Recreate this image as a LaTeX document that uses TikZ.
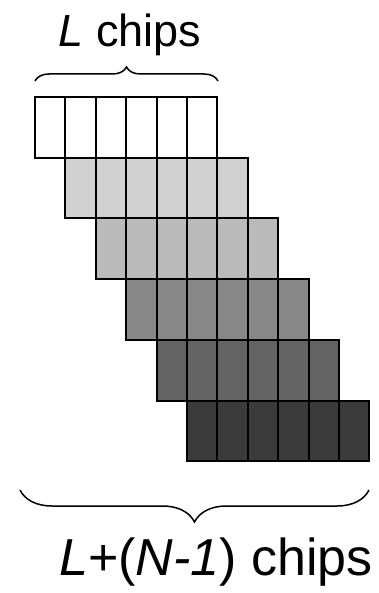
\documentclass[tikz,border=0pt]{standalone}
\usepackage{fontspec}
\setmainfont{Liberation Sans}
\usetikzlibrary{decorations.pathreplacing}

\begin{document}
\begin{tikzpicture}[x=1pt, y=-1pt,
    chip/.style={draw=black, line width=2pt},
    bracebar/.style={decorate, decoration={brace, amplitude=#1}, line width=1.5pt}]
    \useasboundingbox (0,0) rectangle (378,593);

    % Chips: one row per symbol, shifted by one chip
    \foreach \r/\shade in {0/0,1/18,2/27,3/47,4/61,5/77}{
        \foreach \c in {0,...,5}{
            \filldraw[chip, fill=black!\shade] ({35+30.4*(\r+\c)},{97+60.7*\r}) rectangle +(30.4,60.7);
        }
    }

    % Klammer oben
    \coordinate (topL) at (35,81);
    \coordinate (topR) at (218,81);
    \draw[bracebar=14pt] (topL) -- (topR);
    \node[anchor=base, inner sep=0pt] (topLabel) at (130,47) {\fontsize{45}{54}\selectfont\textit{L} chips};

    % Klammer unten
    \coordinate (botL) at (20,490);
    \coordinate (botR) at (369,490);
    \draw[bracebar=32pt] (botR) -- (botL);
    \node[anchor=base, inner sep=0pt] (botLabel) at (216,575) {\fontsize{52}{62}\selectfont\textit{L}+(\textit{N-1}) chips};
\end{tikzpicture}
\end{document}
